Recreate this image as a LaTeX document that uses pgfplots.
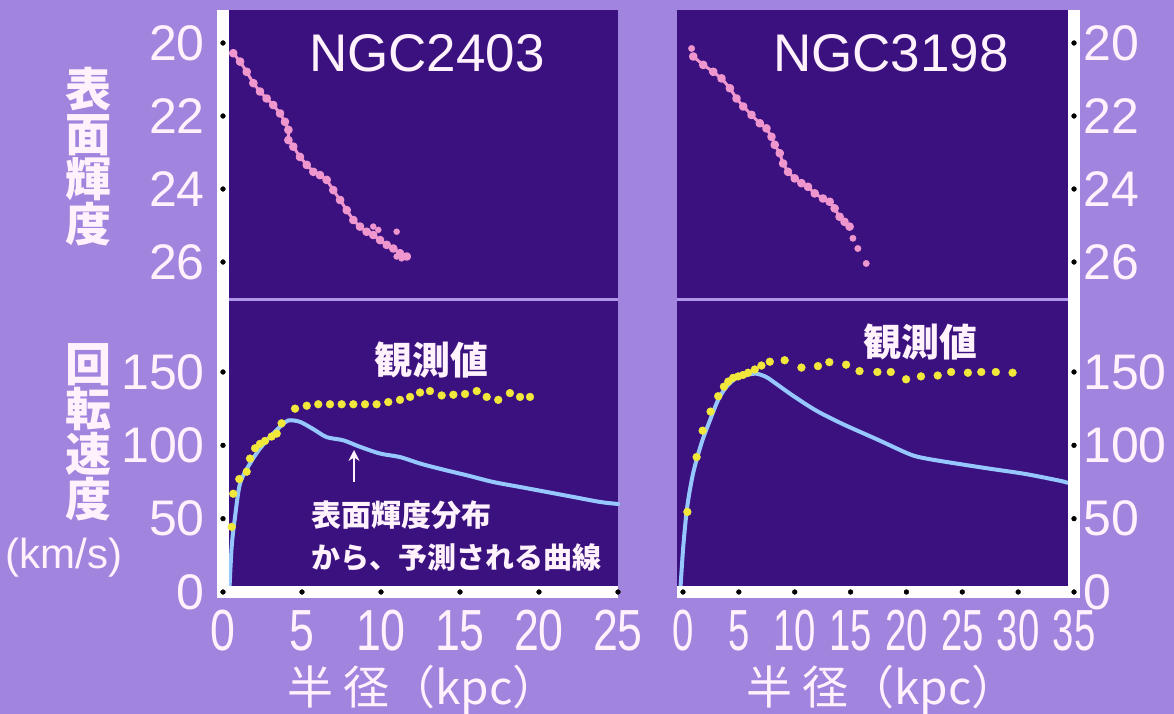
\documentclass[border=0pt]{standalone}
\usepackage{pgfplots}
\pgfplotsset{compat=1.18}
\usepackage{fontspec}
\setmainfont{Liberation Sans}
\newfontfamily\jp{Noto Sans CJK JP}
\newfontfamily\xtA[FakeStretch=0.77]{Liberation Sans}
\newfontfamily\xtB[FakeStretch=0.66]{Liberation Sans}
\usetikzlibrary{arrows.meta}
\definecolor{bgc}{RGB}{161,132,222}
\definecolor{sepc}{RGB}{176,150,234}
\definecolor{plotbg}{RGB}{58,17,126}
\definecolor{txt}{RGB}{255,242,252}
\definecolor{pinkc}{RGB}{238,150,205}
\definecolor{yel}{RGB}{242,232,60}
\definecolor{bluec}{RGB}{150,200,255}
\pgfplotsset{
  panel/.style={scale only axis, anchor=south west, clip=false,
    axis line style={draw=none}, major tick length=0pt, tick style={draw=none},
    axis background/.style={fill=plotbg}},
  ylabL/.style={yticklabel style={font=\fontsize{50}{50}\selectfont, text=txt, anchor=east, inner sep=0pt, xshift=-18pt}},
  ylabR/.style={yticklabel pos=right, yticklabel style={font=\fontsize{50}{50}\selectfont, text=txt, anchor=west, inner sep=0pt, xshift=9pt}},
  strip/.style={white, line width=12pt, forget plot},
  tdot/.style={only marks, mark=*, mark size=2.4pt, black, forget plot},
}
\begin{document}
\begin{tikzpicture}
\fill[bgc] (0pt,0pt) rectangle (1174pt,714pt);
\path[use as bounding box] (0pt,0pt) rectangle (1174pt,714pt);
\fill[sepc] (223pt,413pt) rectangle (618pt,417pt);
\fill[sepc] (677pt,413pt) rectangle (1074pt,417pt);

% ---------- NGC2403 surface brightness ----------
\begin{axis}[panel, ylabL, at={(223pt,416pt)}, width=395pt, height=288pt,
  xmin=0, xmax=25, ymin=19.096, ymax=26.986, y dir=reverse,
  xtick=\empty, ytick={20,22,24,26}, yticklabels={20,22,24,26}]
\addplot[pinkc, line width=3pt, line join=round, mark=*, mark size=2.8pt] coordinates {
(0.65,20.28)(1.08,20.51)(1.50,20.79)(1.92,21.10)(2.34,21.33)(2.76,21.52)(3.18,21.70)
(3.61,21.93)(3.92,22.16)(4.14,22.38)(4.14,22.66)(4.45,22.84)(4.87,23.12)(5.30,23.34)
(5.72,23.53)(6.14,23.62)(6.56,23.75)(6.98,24.03)(7.41,24.30)(7.83,24.58)(8.25,24.85)
(8.67,25.03)(9.09,25.17)(9.51,25.26)(9.94,25.40)(10.36,25.53)(10.78,25.63)(11.2,25.76)(11.63,25.85)};
\addplot[only marks, pinkc, mark=*, mark size=3pt] coordinates {
(9.51,25.03)(9.83,25.12)(10.99,25.17)(10.99,25.85)(11.3,25.9)};
\addplot[strip] coordinates {(0,19.096)(0,26.986)};
\addplot[tdot] coordinates {(0,20)(0,22)(0,24)(0,26)};
\end{axis}

% ---------- NGC2403 rotation ----------
\begin{axis}[panel, ylabL, at={(223pt,122pt)}, width=395pt, height=291pt,
  xmin=0, xmax=25, ymin=0, ymax=198.4,
  xtick={0,5,10,15,20,25}, xticklabels={0,5,10,15,20,25},
  xticklabel style={font=\xtA\fontsize{58}{58}\selectfont, text=txt, anchor=north, inner sep=0pt, yshift=-18pt},
  ytick={0,50,100,150}, yticklabels={0,50,100,150}]
\addplot[bluec, line width=4pt, smooth, line cap=round] coordinates {
(0.40,0)(0.55,31)(0.76,51)(1.08,74)(1.71,87.6)(2.34,97.8)(3.08,107)(3.71,113.6)(4.14,117)
(4.87,116)(5.72,111)(6.56,105.6)(7.62,103.4)(8.67,99)(9.94,94.4)(11.2,92)(12.47,87.6)
(13.73,84)(15.42,79.6)(17.1,75)(18.8,71.6)(20.49,68.2)(22.17,64.8)(23.86,61.4)(25.0,60)};
\addplot[only marks, yel, mark=*, mark size=3.9pt] coordinates {
(0.55,44.4)(0.65,67)(1.03,77)(1.5,82)(1.71,91)(2.03,98)(2.34,101)(2.66,103)(3.08,106)
(3.4,108)(3.71,115)(4.56,125)(5.3,127)(6.03,128)(6.77,128)(7.51,128)(8.25,128)(8.99,128)
(9.72,128)(10.46,129.5)(11.2,131)(11.84,133)(12.47,136)(13.1,137)(13.84,134)(14.58,134.5)
(15.32,135)(16.06,137)(16.69,133)(17.42,131)(18.16,135.6)(18.8,133)(19.43,133)};
\addplot[strip] coordinates {(0,0)(25,0)};
\addplot[strip, line cap=rect] coordinates {(0,0)(0,198.4)};
\addplot[tdot] coordinates {(0,0)(0,50)(0,100)(0,150)(5,0)(10,0)(15,0)(20,0)(25,0)};
\end{axis}

% ---------- NGC3198 surface brightness ----------
\begin{axis}[panel, ylabR, at={(677pt,416pt)}, width=397pt, height=288pt,
  xmin=-0.536, xmax=35, ymin=19.096, ymax=26.986, y dir=reverse,
  xtick=\empty, ytick={20,22,24,26}, yticklabels={20,22,24,26}]
\addplot[pinkc, line width=3pt, line join=round, mark=*, mark size=2.8pt] coordinates {
(0.92,20.37)(1.81,20.60)(2.71,20.79)(3.45,20.97)(4.20,21.24)(4.79,21.52)(5.39,21.74)
(6.13,21.97)(6.88,22.20)(7.47,22.34)(7.92,22.57)(8.21,22.79)(8.66,23.02)(8.96,23.30)
(9.40,23.53)(10.0,23.71)(10.6,23.84)(11.19,23.94)(11.79,24.12)(12.53,24.26)(13.13,24.35)
(13.57,24.53)(14.02,24.76)(14.46,24.90)(14.91,25.03)};
\addplot[only marks, pinkc, mark=*, mark size=3.2pt] coordinates {
(0.77,20.15)(15.21,25.35)(15.65,25.63)(16.40,26.04)};
\addplot[strip] coordinates {(35,19.096)(35,26.986)};
\addplot[tdot] coordinates {(35,20)(35,22)(35,24)(35,26)};
\end{axis}

% ---------- NGC3198 rotation ----------
\begin{axis}[panel, ylabR, at={(677pt,122pt)}, width=397pt, height=291pt,
  xmin=-0.536, xmax=35, ymin=0, ymax=198.4,
  xtick={0,5,10,15,20,25,30,35}, xticklabels={0,5,10,15,20,25,30,35},
  xticklabel style={font=\xtB\fontsize{58}{58}\selectfont, text=txt, anchor=north, inner sep=0pt, yshift=-18pt},
  ytick={0,50,100,150}, yticklabels={0,50,100,150}]
\addplot[bluec, line width=4pt, smooth, line cap=round] coordinates {
(-0.25,0)(0.03,31.5)(0.39,58.7)(0.92,81.4)(1.67,101.8)(2.41,117)(3.15,131)(3.9,140)
(4.79,146)(5.69,148)(6.58,148.8)(7.47,146.5)(8.37,141.8)(9.85,133.8)(11.94,123.6)
(14.3,114.5)(17.3,104.3)(20.27,94)(21.76,91)(24.7,87.3)(27.7,83.8)(30.7,80.4)(33.7,75.9)(34.4,74.5)};
\addplot[only marks, yel, mark=*, mark size=3.9pt] coordinates {
(0.39,54.6)(1.22,92)(1.76,110)(2.47,123)(3.15,133.5)(3.66,140)(4.05,143.5)(4.49,146)
(4.94,147)(5.38,148)(5.83,149.5)(6.43,151.7)(7.02,154.4)(7.77,157)(9.1,158)(10.6,153)
(12.08,154)(13.1,156.7)(14.6,155)(15.8,150.6)(17.4,150)(18.6,150)(19.97,145)(21.3,147)
(22.8,147.6)(24.0,150)(25.5,149.5)(26.7,150)(28.0,150)(29.5,149.5)};
\addplot[strip] coordinates {(-0.536,0)(35,0)};
\addplot[strip, line cap=rect] coordinates {(35,0)(35,198.4)};
\addplot[tdot] coordinates {(35,0)(35,50)(35,100)(35,150)(0,0)(5,0)(10,0)(15,0)(20,0)(25,0)(30,0)};
\end{axis}

% ---------- texts ----------
\node[font=\fontsize{53}{53}\selectfont, text=txt] at (427pt,661pt) {NGC2403};
\node[font=\fontsize{53}{53}\selectfont, text=txt] at (891pt,661pt) {NGC3198};
\node[font=\jp\bfseries\fontsize{38}{38}\selectfont, text=txt] at (431pt,354pt) {観測値};
\node[font=\jp\bfseries\fontsize{38}{38}\selectfont, text=txt] at (920pt,372pt) {観測値};
\draw[txt, line width=2.5pt, -{Stealth[length=11pt,width=11pt]}] (354pt,232pt) -- (354pt,264pt);
\node[font=\jp\bfseries\fontsize{30}{30}\selectfont, text=txt, anchor=west, inner sep=0pt] at (311pt,199pt) {表面輝度分布};
\node[font=\jp\bfseries\fontsize{29}{29}\selectfont, text=txt, anchor=west, inner sep=0pt] at (311pt,156pt) {から、予測される曲線};
\node[font=\jp\bfseries\fontsize{46}{45}\selectfont, text=txt, align=center] at (88pt,557pt) {表\\面\\輝\\度};
\node[font=\jp\bfseries\fontsize{46}{45}\selectfont, text=txt, align=center] at (88pt,282pt) {回\\転\\速\\度};
\node[font=\fontsize{42}{42}\selectfont, text=txt] at (64pt,156pt) {(km/s)};
\node[font=\jp\fontsize{46}{46}\selectfont, text=txt, anchor=west, inner sep=0pt] at (287pt,24pt) {半 径（kpc）};
\node[font=\jp\fontsize{46}{46}\selectfont, text=txt, anchor=west, inner sep=0pt] at (746pt,24pt) {半 径（kpc）};
\end{tikzpicture}
\end{document}
